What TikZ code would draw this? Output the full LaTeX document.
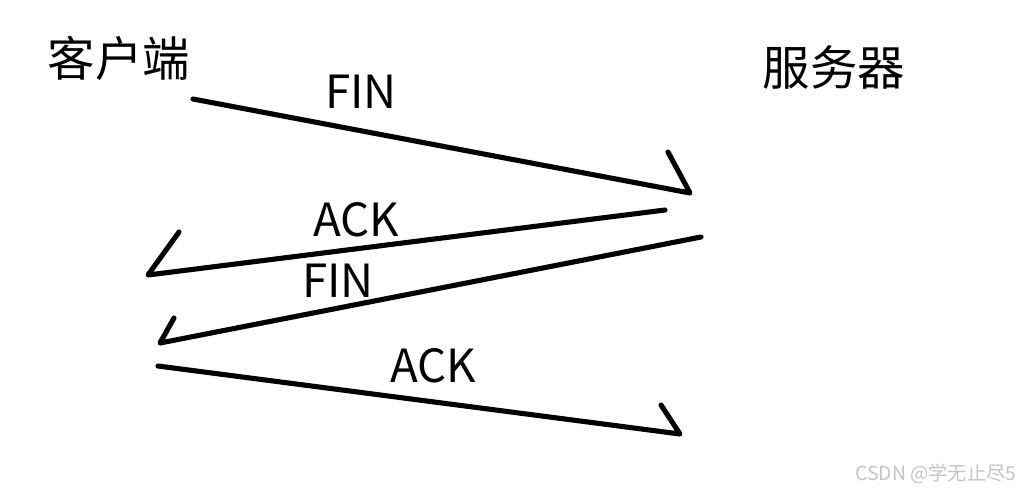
\documentclass[tikz,border=0pt]{standalone}
\usepackage{fontspec}
\setmainfont{Noto Sans CJK SC}
\usetikzlibrary{positioning}
\definecolor{Ink}{HTML}{000000}
\definecolor{Mark}{HTML}{C4C4C4}

\begin{document}
\begin{tikzpicture}[
  x=0.02cm,y=-0.02cm,
  party/.style={inner sep=0pt,font=\fontsize{27}{31}\selectfont},
  msg/.style={inner sep=0pt,font=\fontsize{26}{30}\selectfont},
  stroke/.style={draw=Ink,line width=2.9pt,line cap=round,line join=round},
  wmark/.style={inner sep=0pt,text=Mark,font=\fontsize{11}{13}\selectfont}
]
\useasboundingbox (0,0) rectangle (1025,495);
\node[party] (client) at (119,58) {客户端};
\node[party] (server) at (834,67) {服务器};
% message labels
\node[msg] (fin1) at (361,92) {FIN};
\node[msg] (ack1) at (356,220) {ACK};
\node[msg] (fin2) at (338,281) {FIN};
\node[msg] (ack2) at (433,366) {ACK};
% hand drawn arrows
\coordinate (fin1s) at (193,99);
\coordinate (fin1e) at (690,193);
\coordinate (fin1b) at (668,152);
\coordinate (ack1s) at (665,210);
\coordinate (ack1e) at (148,275);
\coordinate (ack1b) at (179,232);
\coordinate (fin2s) at (701,237);
\coordinate (fin2e) at (160,343);
\coordinate (fin2b) at (174,318);
\coordinate (ack2s) at (158,366);
\coordinate (ack2e) at (680,434);
\coordinate (ack2b) at (661,405);
\draw[stroke] (fin1s) -- (fin1e) -- (fin1b);
\draw[stroke] (ack1s) -- (ack1e) -- (ack1b);
\draw[stroke] (fin2s) -- (fin2e) -- (fin2b);
\draw[stroke] (ack2s) -- (ack2e) -- (ack2b);
\node[wmark] (csdn) at (936,474) {CSDN @学无止尽5};
\end{tikzpicture}
\end{document}
